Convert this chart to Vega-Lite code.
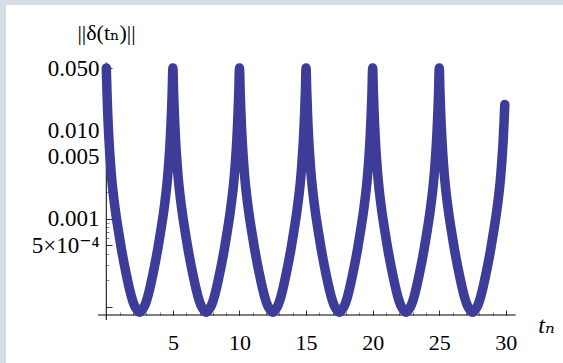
{
  "$schema": "https://vega.github.io/schema/vega-lite/v6.json",
  "autosize": "none",
  "width": 557,
  "height": 358,
  "padding": {"left": 6, "top": 5, "right": 0, "bottom": 0},
  "background": "#d5dee6",
  "config": {"view": {"fill": "white", "stroke": null}, "font": "Liberation Serif, Times New Roman, Tinos, DejaVu Serif, serif"},
  "resolve": {"axis": {"x": "independent", "y": "independent"}},
  "datasets": {
    "series": [
      {"t":0,"v":0.0501},{"t":0.05,"v":0.0275},{"t":0.1,"v":0.0166},{"t":0.15,"v":0.011},{"t":0.2,"v":0.00776},{"t":0.3,"v":0.00447},{"t":0.4,"v":0.00288},{"t":0.5,"v":0.00204},{"t":0.7,"v":0.00117},{"t":0.9,"v":0.000741},{"t":1.13,"v":0.000457},{"t":1.5,"v":0.000234},{"t":1.75,"v":0.000158},{"t":1.9,"v":0.000129},{"t":2.1,"v":0.000105},{"t":2.3,"v":0.0000933},{"t":2.5,"v":0.0000871},{"t":2.7,"v":0.0000933},{"t":2.9,"v":0.000105},{"t":3.1,"v":0.000129},{"t":3.25,"v":0.000158},{"t":3.5,"v":0.000234},{"t":3.87,"v":0.000457},{"t":4.1,"v":0.000741},{"t":4.3,"v":0.00117},{"t":4.5,"v":0.00204},{"t":4.6,"v":0.00288},{"t":4.7,"v":0.00447},{"t":4.8,"v":0.00776},{"t":4.85,"v":0.011},{"t":4.9,"v":0.0166},{"t":4.95,"v":0.0275},
      {"t":5,"v":0.0501},{"t":5.05,"v":0.0275},{"t":5.1,"v":0.0166},{"t":5.15,"v":0.011},{"t":5.2,"v":0.00776},{"t":5.3,"v":0.00447},{"t":5.4,"v":0.00288},{"t":5.5,"v":0.00204},{"t":5.7,"v":0.00117},{"t":5.9,"v":0.000741},{"t":6.13,"v":0.000457},{"t":6.5,"v":0.000234},{"t":6.75,"v":0.000158},{"t":6.9,"v":0.000129},{"t":7.1,"v":0.000105},{"t":7.3,"v":0.0000933},{"t":7.5,"v":0.0000871},{"t":7.7,"v":0.0000933},{"t":7.9,"v":0.000105},{"t":8.1,"v":0.000129},{"t":8.25,"v":0.000158},{"t":8.5,"v":0.000234},{"t":8.87,"v":0.000457},{"t":9.1,"v":0.000741},{"t":9.3,"v":0.00117},{"t":9.5,"v":0.00204},{"t":9.6,"v":0.00288},{"t":9.7,"v":0.00447},{"t":9.8,"v":0.00776},{"t":9.85,"v":0.011},{"t":9.9,"v":0.0166},{"t":9.95,"v":0.0275},
      {"t":10,"v":0.0501},{"t":10.05,"v":0.0275},{"t":10.1,"v":0.0166},{"t":10.15,"v":0.011},{"t":10.2,"v":0.00776},{"t":10.3,"v":0.00447},{"t":10.4,"v":0.00288},{"t":10.5,"v":0.00204},{"t":10.7,"v":0.00117},{"t":10.9,"v":0.000741},{"t":11.13,"v":0.000457},{"t":11.5,"v":0.000234},{"t":11.75,"v":0.000158},{"t":11.9,"v":0.000129},{"t":12.1,"v":0.000105},{"t":12.3,"v":0.0000933},{"t":12.5,"v":0.0000871},{"t":12.7,"v":0.0000933},{"t":12.9,"v":0.000105},{"t":13.1,"v":0.000129},{"t":13.25,"v":0.000158},{"t":13.5,"v":0.000234},{"t":13.87,"v":0.000457},{"t":14.1,"v":0.000741},{"t":14.3,"v":0.00117},{"t":14.5,"v":0.00204},{"t":14.6,"v":0.00288},{"t":14.7,"v":0.00447},{"t":14.8,"v":0.00776},{"t":14.85,"v":0.011},{"t":14.9,"v":0.0166},{"t":14.95,"v":0.0275},
      {"t":15,"v":0.0501},{"t":15.05,"v":0.0275},{"t":15.1,"v":0.0166},{"t":15.15,"v":0.011},{"t":15.2,"v":0.00776},{"t":15.3,"v":0.00447},{"t":15.4,"v":0.00288},{"t":15.5,"v":0.00204},{"t":15.7,"v":0.00117},{"t":15.9,"v":0.000741},{"t":16.13,"v":0.000457},{"t":16.5,"v":0.000234},{"t":16.75,"v":0.000158},{"t":16.9,"v":0.000129},{"t":17.1,"v":0.000105},{"t":17.3,"v":0.0000933},{"t":17.5,"v":0.0000871},{"t":17.7,"v":0.0000933},{"t":17.9,"v":0.000105},{"t":18.1,"v":0.000129},{"t":18.25,"v":0.000158},{"t":18.5,"v":0.000234},{"t":18.87,"v":0.000457},{"t":19.1,"v":0.000741},{"t":19.3,"v":0.00117},{"t":19.5,"v":0.00204},{"t":19.6,"v":0.00288},{"t":19.7,"v":0.00447},{"t":19.8,"v":0.00776},{"t":19.85,"v":0.011},{"t":19.9,"v":0.0166},{"t":19.95,"v":0.0275},
      {"t":20,"v":0.0501},{"t":20.05,"v":0.0275},{"t":20.1,"v":0.0166},{"t":20.15,"v":0.011},{"t":20.2,"v":0.00776},{"t":20.3,"v":0.00447},{"t":20.4,"v":0.00288},{"t":20.5,"v":0.00204},{"t":20.7,"v":0.00117},{"t":20.9,"v":0.000741},{"t":21.13,"v":0.000457},{"t":21.5,"v":0.000234},{"t":21.75,"v":0.000158},{"t":21.9,"v":0.000129},{"t":22.1,"v":0.000105},{"t":22.3,"v":0.0000933},{"t":22.5,"v":0.0000871},{"t":22.7,"v":0.0000933},{"t":22.9,"v":0.000105},{"t":23.1,"v":0.000129},{"t":23.25,"v":0.000158},{"t":23.5,"v":0.000234},{"t":23.87,"v":0.000457},{"t":24.1,"v":0.000741},{"t":24.3,"v":0.00117},{"t":24.5,"v":0.00204},{"t":24.6,"v":0.00288},{"t":24.7,"v":0.00447},{"t":24.8,"v":0.00776},{"t":24.85,"v":0.011},{"t":24.9,"v":0.0166},{"t":24.95,"v":0.0275},
      {"t":25,"v":0.0501},{"t":25.05,"v":0.0275},{"t":25.1,"v":0.0166},{"t":25.15,"v":0.011},{"t":25.2,"v":0.00776},{"t":25.3,"v":0.00447},{"t":25.4,"v":0.00288},{"t":25.5,"v":0.00204},{"t":25.7,"v":0.00117},{"t":25.9,"v":0.000741},{"t":26.13,"v":0.000457},{"t":26.5,"v":0.000234},{"t":26.75,"v":0.000158},{"t":26.9,"v":0.000129},{"t":27.1,"v":0.000105},{"t":27.3,"v":0.0000933},{"t":27.5,"v":0.0000871},{"t":27.7,"v":0.0000933},{"t":27.9,"v":0.000105},{"t":28.1,"v":0.000129},{"t":28.25,"v":0.000158},{"t":28.5,"v":0.000234},{"t":28.87,"v":0.000457},{"t":29.1,"v":0.000741},{"t":29.3,"v":0.00117},{"t":29.5,"v":0.00204},{"t":29.6,"v":0.00288},{"t":29.7,"v":0.00447},{"t":29.8,"v":0.00776},{"t":29.85,"v":0.011},{"t":29.9,"v":0.0166},{"t":29.92,"v":0.0194}
    ]
  },
  "layer": [
    {
      "data": {"values": [{}]},
      "mark": {"type": "rule", "color": "black", "strokeWidth": 1},
      "encoding": {
        "x": {"datum": -0.62, "type": "quantitative", "scale": {"domain": [-7.53, 34.29], "nice": false, "zero": false},
          "axis": {"orient": "bottom", "values": [1,2,3,4,6,7,8,9,11,12,13,14,16,17,18,19,21,22,23,24,26,27,28,29], "domain": false, "grid": false, "labels": false, "title": null, "offset": -48, "tickSize": -3, "tickColor": "#8a8a8a", "tickWidth": 1}},
        "x2": {"datum": 30.74},
        "y": {"datum": 0.0000812, "type": "quantitative", "scale": {"type": "log", "domain": [0.0000233, 0.2585], "nice": false}, "axis": null}
      }
    },
    {
      "data": {"values": [{}]},
      "mark": {"type": "rule", "color": "black", "strokeWidth": 1},
      "encoding": {
        "x": {"datum": 0, "type": "quantitative", "scale": {"domain": [-7.53, 34.29], "nice": false, "zero": false}, "axis": null},
        "y": {"datum": 0.0000713, "type": "quantitative", "scale": {"type": "log", "domain": [0.0000233, 0.2585], "nice": false},
          "axis": {"orient": "left", "values": [0.04,0.03,0.02,0.009,0.008,0.007,0.006,0.004,0.003,0.002,0.0009,0.0008,0.0007,0.0006,0.0004,0.0003,0.0002], "domain": false, "grid": false, "labels": false, "title": null, "offset": -100, "tickSize": -3, "tickColor": "#8a8a8a", "tickWidth": 1}},
        "y2": {"datum": 0.0579}
      }
    },
    {
      "data": {"name": "series"},
      "mark": {"type": "line", "color": "#3d3d99", "strokeWidth": 9.5, "strokeCap": "round", "strokeJoin": "round", "interpolate": "monotone"},
      "encoding": {
        "x": {
          "field": "t", "type": "quantitative",
          "scale": {"domain": [-7.53, 34.29], "nice": false, "zero": false},
          "axis": {
            "orient": "bottom",
            "values": [5,10,15,20,25,30],
            "domain": false, "grid": false, "offset": -48,
            "tickSize": -5, "tickColor": "#333333", "tickWidth": 1,
            "labelFont": "Liberation Serif, Times New Roman, Tinos, DejaVu Serif, serif", "labelFontSize": 22, "labelColor": "black",
            "labelPadding": 22, "labelFlush": false, "labelOverlap": false,
            "title": "tₙ", "titleFont": "Liberation Serif, Times New Roman, Tinos, DejaVu Serif, serif", "titleFontStyle": "italic", "titleFontWeight": "normal",
            "titleFontSize": 24, "titleColor": "black", "titleX": 540, "titleY": 10,
            "titleAlign": "center", "titleBaseline": "middle"
          }
        },
        "y": {
          "field": "v", "type": "quantitative",
          "scale": {"type": "log", "domain": [0.0000233, 0.2585], "nice": false},
          "axis": {
            "orient": "left",
            "values": [0.05,0.01,0.005,0.001,0.0005,0.0001],
            "domain": false, "grid": false, "offset": -100,
            "tickSize": -6, "tickColor": "#333333", "tickWidth": 1,
            "labelExpr": "datum.value == 0.05 ? '0.050' : datum.value == 0.01 ? '0.010' : datum.value == 0.005 ? '0.005' : datum.value == 0.001 ? '0.001' : datum.value == 0.0005 ? '5×10⁻⁴' : ''",
            "labelFont": "Liberation Serif, Times New Roman, Tinos, DejaVu Serif, serif", "labelFontSize": 23, "labelColor": "black",
            "labelPadding": 13, "labelFlush": false, "labelOverlap": false,
            "title": "||δ(tₙ)||", "titleFont": "Liberation Serif, Times New Roman, Tinos, DejaVu Serif, serif", "titleFontWeight": "normal",
            "titleFontSize": 22, "titleColor": "black", "titleAngle": 0,
            "titleX": 0, "titleY": 27, "titleAlign": "center", "titleBaseline": "middle"
          }
        }
      }
    }
  ]
}
